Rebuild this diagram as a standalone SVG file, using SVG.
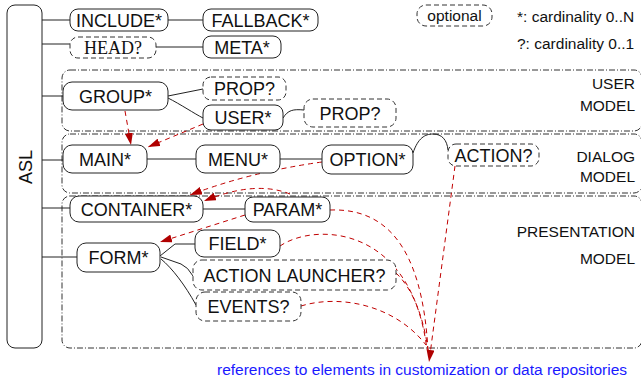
<svg xmlns="http://www.w3.org/2000/svg" width="641" height="384" viewBox="0 0 641 384">
<style>
.bg{fill:#fff}
.n{fill:#fff;stroke:#222;stroke-width:1}
.o{fill:#fff;stroke:#333;stroke-width:1;stroke-dasharray:5,3}
.t{font-family:"Liberation Sans",Arial,sans-serif;font-size:18px;fill:#111;text-anchor:middle}
.ts{font-family:"Liberation Serif","Times New Roman",serif;font-size:18px;fill:#111;text-anchor:middle}
.s{font-family:"Liberation Sans",Arial,sans-serif;font-size:15.5px;fill:#111}
.r{font-family:"Liberation Sans",Arial,sans-serif;font-size:15.5px;fill:#111;text-anchor:end}
.reg{fill:none;stroke:#333;stroke-width:1;stroke-dasharray:6,2,1,2}
.l{fill:none;stroke:#222;stroke-width:1}
.ref{fill:none;stroke:#c00000;stroke-width:1;stroke-dasharray:5,4}
</style>
<defs>
<marker id="ah" markerUnits="userSpaceOnUse" markerWidth="13" markerHeight="8" viewBox="0 0 13 8" refX="12" refY="4" orient="auto">
<path d="M0,0 L12,4 L0,8 Z" fill="#b00000"/>
</marker>
</defs>
<rect class="bg" x="0" y="0" width="641" height="384"/>
<g id="regions">
<rect class="reg" x="62" y="70" width="580" height="61" rx="8"/>
<rect class="reg" x="62" y="134" width="580" height="59" rx="8"/>
<rect class="reg" x="62" y="196" width="580" height="152" rx="8"/>
<text class="r" x="635" y="89">USER</text>
<text class="r" x="635" y="111">MODEL</text>
<text class="r" x="635" y="162">DIALOG</text>
<text class="r" x="635" y="182">MODEL</text>
<text class="r" x="635" y="237">PRESENTATION</text>
<text class="r" x="635" y="264">MODEL</text>
</g>
<g id="connectors">
<path class="l" d="M42,20 H70 M42,44 H70 M42,96 H63 M42,160 H63 M42,208 H70 M42,257 H77"/>
<path class="l" d="M168,20 H203 M156,47 H203"/>
<path class="l" d="M168,96 L203,89"/>
<path class="l" d="M168,98 C180,104 195,114 203,118"/>
<path class="l" d="M283,118 C288,110 293,109 304,110"/>
<path class="l" d="M147,159 H196 M280,159 H322"/>
<path class="l" d="M413,153 C418,138 425,134 433,134 C442,134 447,140 448,150"/>
<path class="l" d="M203,209 H245"/>
<path class="l" d="M160,256 L175,244 L195,244"/>
<path class="l" d="M161,257 L181,264 Q188,267 193,276"/>
<path class="l" d="M161,259 C172,268 185,285 196,305"/>
<path class="ref" d="M125,111 L131,145" marker-end="url(#ah)"/>
<path class="ref" d="M203,124 L148,147" marker-end="url(#ah)"/>
<path class="ref" d="M322,162 Q250,172 190,195" marker-end="url(#ah)"/>
<path class="ref" d="M290,194 Q255,180 204,201" marker-end="url(#ah)"/>
<path class="ref" d="M245,215 L160,242" marker-end="url(#ah)"/>
<path class="ref" d="M330,210 C385,208 422,245 428,350"/>
<path class="ref" d="M280,246 C315,222 412,225 427,350"/>
<path class="ref" d="M396,273 C414,290 424,320 428,350"/>
<path class="ref" d="M301,306 C340,294 395,305 426,345"/>
<path class="ref" d="M455,166 L429,362" marker-end="url(#ah)"/>
</g>
<g id="ASL">
<rect class="n" x="7" y="5" width="35" height="343" rx="8"/>
<text class="t" transform="translate(32,167) rotate(-90)">ASL</text>
</g>
<g id="INCLUDE"><rect class="n" x="70" y="9" width="98" height="22" rx="8"/><text class="t" x="119" y="26.5">INCLUDE*</text></g>
<g id="FALLBACK"><rect class="n" x="203" y="9" width="115" height="22" rx="8"/><text class="t" x="260.5" y="26.5">FALLBACK*</text></g>
<g id="HEAD"><rect class="o" x="70" y="37" width="86" height="21" rx="8"/><text class="ts" x="113" y="54">HEAD?</text></g>
<g id="META"><rect class="n" x="203" y="36" width="78" height="22" rx="8"/><text class="t" x="242" y="53.5">META*</text></g>
<g id="GROUP"><rect class="n" x="63" y="82" width="105" height="28" rx="9"/><text class="t" x="115.5" y="102.5">GROUP*</text></g>
<g id="PROP1"><rect class="o" x="203" y="77" width="83" height="23" rx="8"/><text class="t" x="244.5" y="95">PROP?</text></g>
<g id="USER"><rect class="n" x="203" y="105" width="80" height="25" rx="8"/><text class="t" x="243" y="124">USER*</text></g>
<g id="PROP2"><rect class="o" x="304" y="99" width="92" height="28" rx="9"/><text class="t" x="350" y="119.5">PROP?</text></g>
<g id="MAIN"><rect class="n" x="63" y="145" width="84" height="28" rx="9"/><text class="t" x="105" y="165.5">MAIN*</text></g>
<g id="MENU"><rect class="n" x="196" y="145" width="84" height="28" rx="9"/><text class="t" x="238" y="165.5">MENU*</text></g>
<g id="OPTION"><rect class="n" x="322" y="145" width="91" height="29" rx="9"/><text class="t" x="367.5" y="166">OPTION*</text></g>
<g id="ACTION"><rect class="o" x="448" y="144" width="91" height="22" rx="8"/><text class="t" x="493.5" y="161.5">ACTION?</text></g>
<g id="CONTAINER"><rect class="n" x="70" y="196" width="133" height="26" rx="9"/><text class="t" x="136.5" y="215.5">CONTAINER*</text></g>
<g id="PARAM"><rect class="n" x="245" y="197" width="85" height="25" rx="8"/><text class="t" x="287.5" y="216">PARAM*</text></g>
<g id="FORM"><rect class="n" x="77" y="243" width="83" height="29" rx="9"/><text class="t" x="118.5" y="264">FORM*</text></g>
<g id="FIELD"><rect class="n" x="195" y="230" width="85" height="27" rx="9"/><text class="t" x="237.5" y="250">FIELD*</text></g>
<g id="ACTIONLAUNCHER"><rect class="o" x="193" y="260" width="203" height="30" rx="9"/><text class="t" x="294.5" y="281.5">ACTION LAUNCHER?</text></g>
<g id="EVENTS"><rect class="o" x="196" y="292" width="105" height="29" rx="9"/><text class="t" x="248.5" y="313">EVENTS?</text></g>
<g id="legend">
<rect class="o" x="417" y="5" width="75" height="21" rx="9"/>
<text class="s" x="454.5" y="20.5" text-anchor="middle">optional</text>
<text class="s" x="517" y="22">*: cardinality 0..N</text>
<text class="s" x="517" y="49">?: cardinality 0..1</text>
</g>
<text x="217" y="375" font-family="Liberation Sans, Arial, sans-serif" font-size="15.5" fill="#1a1aff">references to elements in customization or data repositories</text>
</svg>
